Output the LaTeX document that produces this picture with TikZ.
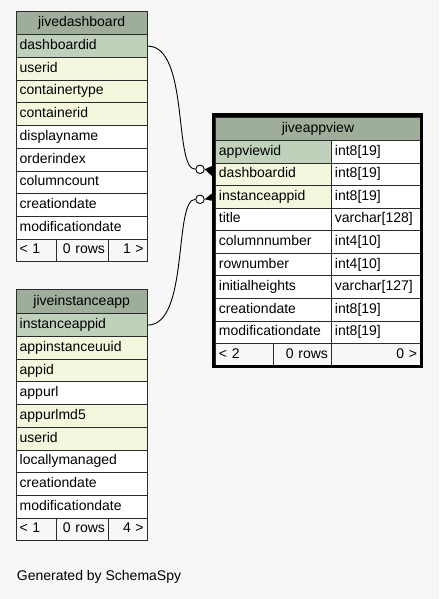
\documentclass[tikz,border=0pt]{standalone}
\usepackage{fontspec}
\setmainfont{Liberation Sans}
\usetikzlibrary{arrows.meta}

\definecolor{bgcol}{HTML}{F7F7F7}
\definecolor{headcol}{HTML}{9EAE9A}
\definecolor{pkcol}{HTML}{BFD1BB}
\definecolor{idxcol}{HTML}{F4F7DE}
\definecolor{gridcol}{HTML}{2B2B2B}

\tikzset{
  cell/.style={draw=gridcol, line width=0.9pt, anchor=north west, minimum height=22.7,
    inner xsep=3.5pt, inner ysep=0pt, text height=10pt, text depth=3pt,
    font=\fontsize{14}{16}\selectfont},
  fkline/.style={line width=0.9pt, black},
  endcircle/.style={circle, draw, line width=0.9pt, fill=white, minimum size=8.5, inner sep=0pt}
}

\begin{document}
\begin{tikzpicture}[x=1pt,y=-1pt]
  \fill[bgcol] (0,0) rectangle (439,599);
  \useasboundingbox (0,0) rectangle (439,599);

  % jivedashboard
  \node[cell, fill=headcol, text width=124, align=center, minimum height=23.6] (dash-h) at (15.7,10.7) {jivedashboard};
  \foreach \txt/\fc [count=\i] in {dashboardid/pkcol, userid/idxcol, containertype/idxcol,
      containerid/idxcol, displayname/white, orderindex/white, columncount/white,
      creationdate/white, modificationdate/white}
    \node[cell, fill=\fc, text width=124, align=left] (dash-\i) at ({15.7},{34.3+(\i-1)*22.7}) {\txt};
  \node[cell, fill=bgcol, text width=33.3, align=left] (dash-f1) at (15.7,238.6) {< 1};
  \node[cell, fill=bgcol, text width=45, align=right] (dash-f2) at (56,238.6) {0 rows};
  \node[cell, fill=bgcol, text width=31.7, align=right] (dash-f3) at (108,238.6) {1 >};

  % jiveinstanceapp
  \node[cell, fill=headcol, text width=124, align=center, minimum height=24.3] (inst-h) at (15.7,289) {jiveinstanceapp};
  \foreach \txt/\fc [count=\i] in {instanceappid/pkcol, appinstanceuuid/idxcol, appid/idxcol,
      appurl/white, appurlmd5/idxcol, userid/idxcol, locallymanaged/white,
      creationdate/white, modificationdate/white}
    \node[cell, fill=\fc, text width=124, align=left] (inst-\i) at ({15.7},{313.3+(\i-1)*22.7}) {\txt};
  \node[cell, fill=bgcol, text width=33.3, align=left] (inst-f1) at (15.7,517.6) {< 1};
  \node[cell, fill=bgcol, text width=45, align=right] (inst-f2) at (56,517.6) {0 rows};
  \node[cell, fill=bgcol, text width=31.7, align=right] (inst-f3) at (108,517.6) {4 >};

  % jiveappview
  \node[cell, fill=headcol, text width=198, align=center, minimum height=23.3] (view-h) at (215,116.7) {jiveappview};
  \foreach \txt/\typ/\fc [count=\i] in {appviewid/int8[19]/pkcol, dashboardid/int8[19]/idxcol,
      instanceappid/int8[19]/idxcol, title/varchar[128]/white, columnnumber/int4[10]/white,
      rownumber/int4[10]/white, initialheights/varchar[127]/white, creationdate/int8[19]/white,
      modificationdate/int8[19]/white}
  {
    \node[cell, fill=\fc, text width=109, align=left, minimum height=22.57] (view-\i) at ({215},{140+(\i-1)*22.57}) {\txt};
    \node[cell, fill=white, text width=82, align=left, minimum height=22.57] (type-\i) at ({331},{140+(\i-1)*22.57}) {\typ};
  }
  \node[cell, fill=bgcol, text width=51.3, align=left, minimum height=22.57] (view-f1) at (215,343.1) {< 2};
  \node[cell, fill=bgcol, text width=50.7, align=right, minimum height=22.57] (view-f2) at (273.3,343.1) {0 rows};
  \node[cell, fill=bgcol, text width=82, align=right, minimum height=22.57] (view-f3) at (331,343.1) {0 >};
  \draw[line width=3.4pt] (213.3,115) rectangle (421.6,366.6);

  % foreign keys
  \node[endcircle] (c1) at (200,169.3) {};
  \node[endcircle] (c2) at (200,199.3) {};
  \draw[fkline] (dash-1.east) .. controls +(42,0) and +(-22,0) .. (c1.west);
  \draw[fkline] (inst-1.east) .. controls +(42,0) and +(-22,0) .. (c2.west);
  \fill (c1.east) -- (213,165.5) -- (213,177) -- cycle;
  \fill (c2.east) -- (213,192.5) -- (213,201) -- cycle;

  \node[anchor=base west, inner sep=0pt, font=\fontsize{14}{16}\selectfont] (credit) at (16.7,580.7) {Generated by SchemaSpy};
\end{tikzpicture}
\end{document}
